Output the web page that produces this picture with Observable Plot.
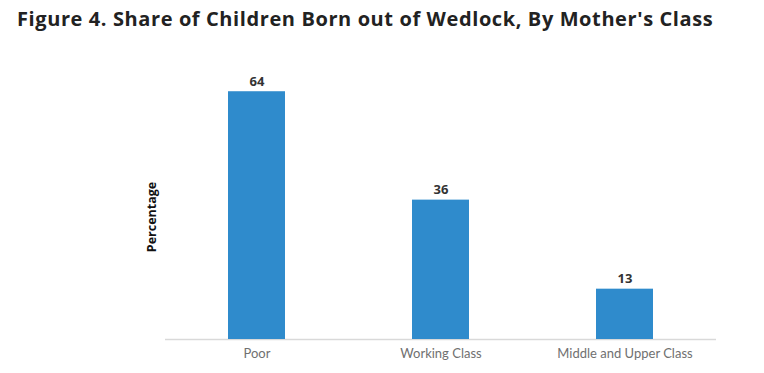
<!DOCTYPE html>
<html>
<head>
<meta charset="utf-8">
<script src="https://cdn.jsdelivr.net/npm/d3@7"></script>
<script src="https://cdn.jsdelivr.net/npm/@observablehq/plot@0.6"></script>
<style>
  html, body { margin: 0; padding: 0; background: #fff; }
  #title { height: 40px; box-sizing: border-box; padding: 6px 0 0 17px; font-family: "Open Sans", sans-serif; font-weight: 700; font-size: 20px; letter-spacing: 0.6px; color: #222; white-space: nowrap; line-height: 26px; }
  svg { display: block; }
</style>
</head>
<body>
<div id="title">Figure 4. Share of Children Born out of Wedlock, By Mother's Class</div>
<div id="chart"></div>
<script>
const categories = ["Poor", "Working Class", "Middle and Upper Class"];
const values = [64, 36, 13];
const yLabel = "Percentage";

const data = categories.map((c, i) => ({category: c, value: values[i]}));

const chart = Plot.plot({
  width: 764,
  height: 333,
  marginLeft: 165,
  marginRight: 48,
  marginTop: 28,
  marginBottom: 34,
  style: {fontFamily: "Lato, sans-serif", background: "#fff"},
  x: {domain: categories, paddingInner: 0.691, paddingOuter: 0.339},
  y: {domain: [0, 70], axis: null},
  marks: [
    Plot.ruleY([0], {stroke: "#d9d9d9", strokeWidth: 1.5}),
    Plot.barY(data, {x: "category", y: "value", fill: "#2f8bcc"}),
    Plot.text(data, {x: "category", y: "value", text: d => String(d.value), lineAnchor: "bottom", dy: -6, fontWeight: "bold", fontSize: 13, fill: "#333", fontFamily: "Open Sans, sans-serif"}),
    Plot.axisX({tickSize: 0, tickPadding: 9, fontSize: 13, color: "#707070", label: null}),
    Plot.text([yLabel], {frameAnchor: "left", textAnchor: "middle", rotate: -90, dx: -14, dy: 13, fontWeight: "bold", fontSize: 12.5, fill: "#111", fontFamily: "Open Sans, sans-serif"})
  ]
});
document.getElementById("chart").appendChild(chart);
</script>
</body>
</html>
